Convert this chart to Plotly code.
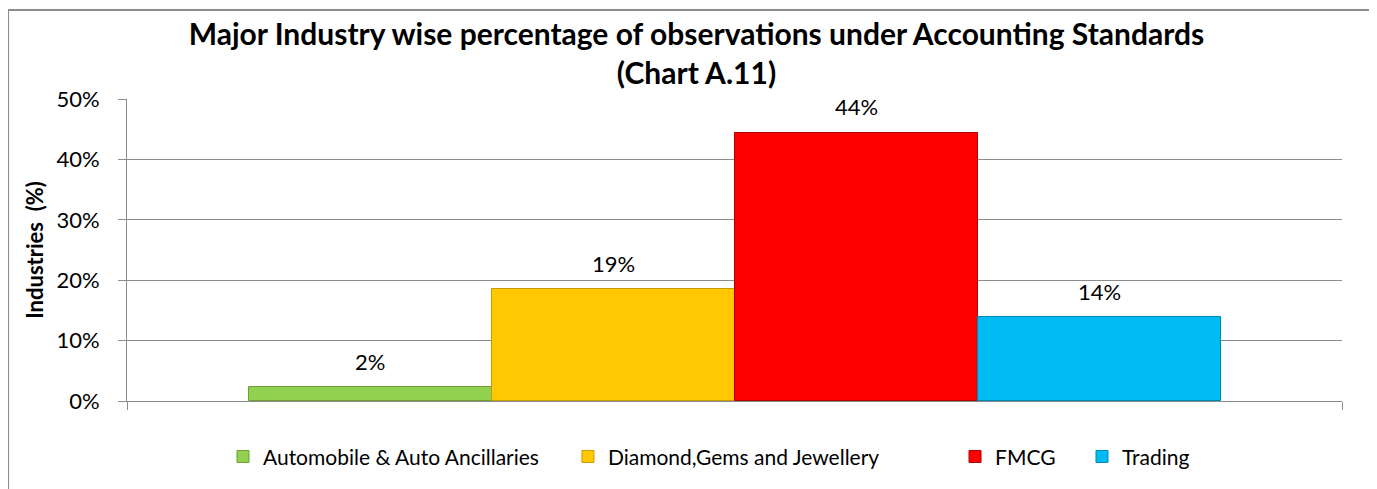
import plotly.graph_objects as go

industries = ["Automobile & Auto Ancillaries", "Diamond,Gems and Jewellery", "FMCG", "Trading"]
shares = [0.023, 0.185, 0.444, 0.139]
labels = ["2%", "19%", "44%", "14%"]
colors = ["#92D050", "#FFC800", "#FF0000", "#00BCF2"]
edges = ["#6E9E35", "#C79A00", "#B00000", "#0088B5"]
y_ticks = [0, 0.1, 0.2, 0.3, 0.4, 0.5]
y_ticktext = ["0%", "10%", "20%", "30%", "40%", "50%"]

FONT = "Lato"
legend_ids = ["legend", "legend2", "legend3", "legend4"]
legend_x = [0.0790, 0.3629, 0.6815, 0.7860]

fig = go.Figure()
for i, (name, v, c, e) in enumerate(zip(industries, shares, colors, edges)):
    fig.add_trace(go.Bar(
        x=[i], y=[v], name=name, width=1,
        marker=dict(color=c, line=dict(color=e, width=1)),
        hoverinfo="name+y", legend=legend_ids[i],
    ))

annotations = []
for i, (v, t) in enumerate(zip(shares, labels)):
    annotations.append(dict(
        x=i, y=v, xref="x", yref="y", text=t, showarrow=False,
        yanchor="middle", yshift=26, font=dict(family=FONT, size=22, color="#000000"),
    ))

legend_style = dict(
    orientation="h", xanchor="left", y=-0.117, yanchor="top",
    font=dict(family=FONT, size=21, color="#000000"),
    bgcolor="rgba(0,0,0,0)",
)
legends = {}
for lid, lx in zip(legend_ids, legend_x):
    legends[lid] = dict(legend_style, x=lx)

fig.update_layout(
    width=1377, height=489,
    margin=dict(l=119, r=43, t=91, b=96),
    paper_bgcolor="white", plot_bgcolor="white",
    font=dict(family=FONT, size=21, color="#000000"),
    title=dict(
        text="<b>Major Industry wise percentage of observations under Accounting Standards<br>(Chart A.11)</b>",
        x=0.5, xref="container", xanchor="center",
        y=0.925, yref="container", yanchor="top",
        font=dict(family=FONT, size=30, color="#000000"),
    ),
    showlegend=True,
    annotations=annotations,
    bargap=0,
    shapes=[dict(
        type="rect", xref="paper", yref="paper",
        x0=-0.0979, x1=1.0239, y0=-0.6, y1=1.2947,
        line=dict(color="#8C8C8C", width=2), fillcolor="rgba(0,0,0,0)", layer="below",
    )],
    **legends,
)

fig.update_xaxes(
    range=[-1, 4], tickvals=[-1, 4], ticktext=["", ""],
    ticks="outside", ticklen=8, tickcolor="#8C8C8C",
    showline=True, linecolor="#8C8C8C", linewidth=1,
    showgrid=False, zeroline=False, fixedrange=True,
)
fig.update_yaxes(
    range=[0, 0.5], tickvals=y_ticks, ticktext=y_ticktext,
    ticks="outside", ticklen=8, tickcolor="#8C8C8C",
    showline=True, linecolor="#8C8C8C", linewidth=1,
    showgrid=True, gridcolor="#8C8C8C", gridwidth=1, zeroline=False,
    ticklabelstandoff=14,
    title=dict(text="<b>Industries  (%)</b>", font=dict(family=FONT, size=22), standoff=6),
    tickfont=dict(family=FONT, size=22),
)

fig.write_html("out.html")
